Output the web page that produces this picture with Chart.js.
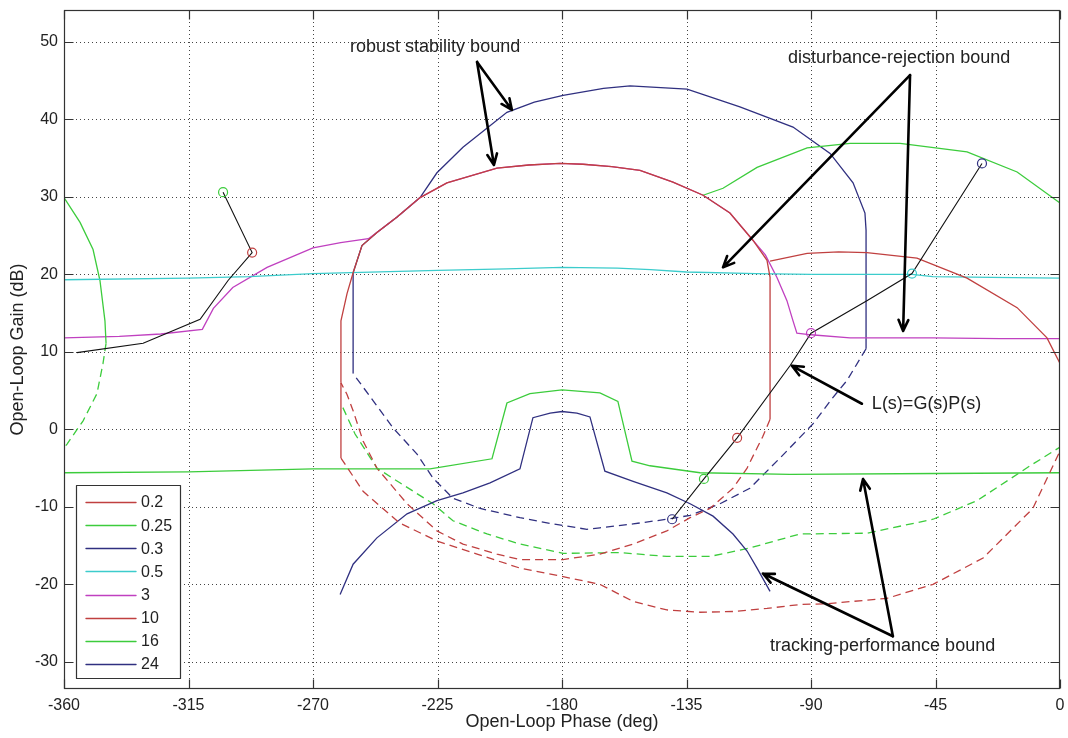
<!DOCTYPE html>
<html>
<head>
<meta charset="utf-8">
<title>Nichols chart with QFT bounds</title>
<script src="https://cdn.jsdelivr.net/npm/chart.js@4/dist/chart.umd.min.js"></script>
<style>
  html, body { margin: 0; padding: 0; background: #fff; }
  #wrap { width: 1068px; height: 738px; }
</style>
</head>
<body>
<div id="wrap"><canvas id="nichols" width="1068" height="738"></canvas></div>
<script>
// ---- axis ticks ----
const phaseTicks = [-360, -315, -270, -225, -180, -135, -90, -45, 0];
const gainTicks = [-30, -20, -10, 0, 10, 20, 30, 40, 50];

// ---- bound frequencies (rad/s) shown in the legend ----
const freqLabels = ['0.2', '0.25', '0.3', '0.5', '3', '10', '16', '24'];

// ---- bounds: [phase (deg), gain (dB)] ; null breaks a line ----
const w02Solid = [[-259.9, -3.7], [-259.9, 6.0], null,
  [-104.8, 21.7], [-91.4, 22.7], [-80, 22.9], [-69.8, 22.8], [-51.7, 22.1],
  [-33.6, 19.5], [-15.5, 15.7], [-4.7, 11.8], [0, 8.5]];
const w02Dashed = [[-259.9, -3.7], [-251.9, -8.0], [-238.6, -12.1], [-225.2, -14.4],
  [-210.7, -16.1], [-195.2, -17.9], [-179.6, -19.0], [-166.3, -20.0], [-154.3, -22.2],
  [-142.1, -23.3], [-130, -23.6], [-118.2, -23.5], [-105.9, -23.1], [-94.0, -22.6],
  [-84.2, -22.5], [-62.5, -21.8], [-45.9, -20.0], [-27.8, -16.6], [-9.8, -10.2], [0, -2.8]];

const w025Solid = [[-360, -5.6], [-315, -5.5], [-270, -5.1], [-227.7, -5.1], [-205.3, -3.8],
  [-199.9, 3.4], [-191.6, 4.6], [-180, 5.1], [-166.3, 4.7], [-159.8, 3.6], [-154.7, -4.1],
  [-148.2, -4.7], [-130.1, -5.6], [-97.6, -5.8], [-45, -5.7], [0, -5.6]];
const w025Dashed = [[-259.2, 2.8], [-254.8, -0.6], [-246.9, -5.0], [-238.6, -6.9],
  [-226.6, -9.6], [-219.4, -11.8], [-207.1, -13.5], [-195.2, -14.8], [-179.6, -16.0],
  [-159.0, -15.9], [-142.1, -16.4], [-126.5, -16.4], [-112.0, -15.3], [-94.0, -13.5],
  [-69.8, -13.4], [-45.9, -11.6], [-30.0, -9.2], [-10.8, -4.7], [0, -2.3]];

const w03Solid = [[-260.2, -21.3], [-255.5, -17.4], [-246.9, -14.0], [-236.0, -10.9],
  [-225.2, -9.2], [-215.8, -8.2], [-206.0, -6.9], [-195.2, -5.1], [-190.5, 1.5],
  [-184.3, 2.1], [-180.0, 2.3], [-174.6, 2.1], [-169.9, 1.6], [-164.5, -5.4],
  [-154.3, -6.7], [-142.1, -8.2], [-133.7, -9.6], [-125.4, -11.2], [-118.2, -13.5],
  [-113.1, -15.7], [-109.5, -17.9], [-104.8, -20.9]];

const w05Solid = [[-360, 19.3], [-315, 19.5], [-293, 19.7], [-270, 20.1], [-225, 20.5],
  [-200, 20.7], [-180, 20.9], [-160, 20.8], [-148, 20.6], [-135, 20.3], [-110, 20.1],
  [-90, 20.0], [-70, 20.0], [-53.5, 20.0], [-46, 19.7], [-25, 19.6], [0, 19.5]];

const w3Solid = [[-360, 11.8], [-340, 12.0], [-325, 12.3], [-310, 12.9], [-306, 15.6],
  [-299, 18.3], [-286.6, 20.9], [-270, 23.4], [-260, 24.1], [-250, 24.6], [-246.9, 25.4],
  [-239.6, 27.4], [-231.3, 29.9], [-221.6, 31.8], [-203.5, 33.7], [-192, 34.1],
  [-180.7, 34.3], [-172.4, 34.2], [-162, 33.9], [-151.8, 33.4], [-139.9, 31.9],
  [-129.0, 30.2], [-119.3, 27.9], [-111.0, 24.4], [-106.5, 22.5], [-102.3, 19.6],
  [-98.7, 16.6], [-96.5, 14.0], [-95.1, 12.4], [-90, 12.2], [-75.9, 11.8],
  [-45.9, 11.8], [-21.7, 11.7], [0, 11.7]];

const w10Solid = [[-259.9, 6.0], [-259.9, 14.0], [-257.7, 17.5], [-255.5, 20.2],
  [-252.3, 23.7], [-246.9, 25.4], [-239.6, 27.4], [-231.3, 29.9], [-221.6, 31.8],
  [-203.5, 33.7], [-192, 34.1], [-180.7, 34.3], [-172.4, 34.2], [-162, 33.9],
  [-151.8, 33.4], [-139.9, 31.9], [-129.0, 30.2], [-119.3, 27.9], [-111.0, 24.4],
  [-105.9, 21.8], [-104.8, 19.6], [-104.8, 1.3]];
const w10Dashed = [[-104.8, 1.3], [-107.5, -1.0], [-109.5, -2.4], [-113.1, -5.0],
  [-118.2, -7.6], [-126.5, -10.2], [-133.7, -11.4], [-142.1, -13.1], [-154.3, -14.8],
  [-166.3, -16.1], [-179.6, -16.8], [-195.2, -16.8], [-203.5, -16.1], [-215.8, -14.8],
  [-225.2, -13.1], [-236.0, -9.6], [-246.9, -5.0], [-251.9, -1.5], [-255.5, 2.4],
  [-257.7, 4.5], [-259.9, 6.0]];

const w16Solid = [[-360, 29.9], [-354.2, 26.7], [-349.5, 23.2], [-347.0, 19.2],
  [-345.2, 14.0], [-344.8, 11.1], null,
  [-129.0, 30.2], [-121.8, 31.1], [-109.5, 33.8], [-91.4, 36.3], [-75.9, 36.9],
  [-57.8, 36.9], [-33.6, 35.8], [-15.5, 33.2], [0, 29.2]];
const w16Dashed = [[-344.8, 11.1], [-345.9, 8.5], [-348.1, 4.6], [-353.1, 1.1],
  [-358.9, -1.9], [-360, -2.4]];

const w24Solid = [[-255.5, 7.2], [-255.5, 20.2], [-252.3, 23.7], [-246.9, 25.4],
  [-239.6, 27.4], [-231.3, 29.9], [-225.2, 33.1], [-215.8, 36.4], [-199.9, 40.9],
  [-190, 42.2], [-179.6, 43.1], [-165, 44.0], [-155.4, 44.3], [-134.8, 43.9],
  [-115.7, 41.6], [-96.5, 39.0], [-83.1, 35.6], [-74.8, 31.8], [-70.5, 27.9],
  [-70.1, 25.7], [-70.1, 10.4]];
const w24Dashed = [[-70.1, 10.4], [-77.0, 6.3], [-82.1, 4.1], [-89.3, 0.7],
  [-101.2, -3.7], [-112.1, -7.6], [-122.9, -9.6], [-133.7, -11.1], [-142.1, -11.6],
  [-154.3, -12.2], [-166.3, -12.7], [-171.0, -12.9], [-183.3, -12.2], [-195.2, -11.4],
  [-209.6, -10.2], [-219.4, -8.9], [-226.6, -6.3], [-232.4, -3.2], [-241.1, 0.2],
  [-248.3, 3.7], [-255.5, 7.2]];

// ---- open-loop response L(s)=G(s)P(s) ----
const loopPhase = [-355.3, -331.4, -310.8, -300.7, -292.0, -302.5, null,
  -140.2, -128.7, -116.7, -97.6, -90.0, -69.8, -53.5, -28.2];
const loopGain = [9.9, 11.1, 14.2, 19.2, 22.8, 30.6, null,
  -11.6, -6.4, -1.1, 8.2, 12.4, 16.6, 20.1, 34.3];

// ---- L(s) at the bound frequencies, in legend order ----
const markPhase = [-292.0, -302.5, -28.2, -53.5, -90.0, -116.7, -128.7, -140.2];
const markGain = [22.8, 30.6, 34.3, 20.1, 12.4, -1.1, -6.4, -11.6];

// ---- colours ----
const RED = '#c04040', GREEN = '#3ccc3c', NAVY = '#303080', CYAN = '#3ccccc', MAGENTA = '#c040c0';
const freqColors = [RED, GREEN, NAVY, CYAN, MAGENTA, RED, GREEN, NAVY];

const toXY = arr => arr.map(p => p ? { x: p[0], y: p[1] } : { x: null, y: null });

function bound(label, idx, pts, dashed, order) {
  return {
    label: label, legendIndex: dashed ? -1 : idx,
    data: toXY(pts),
    borderColor: freqColors[idx], borderWidth: 1.3,
    borderDash: dashed ? [8, 5] : [],
    pointRadius: 0, tension: 0, fill: false, spanGaps: false,
    order: order
  };
}

const datasets = [
  bound(freqLabels[0], 0, w02Solid, false, 3),
  bound(freqLabels[0], 0, w02Dashed, true, 3),
  bound(freqLabels[1], 1, w025Solid, false, 3),
  bound(freqLabels[1], 1, w025Dashed, true, 4),
  bound(freqLabels[2], 2, w03Solid, false, 3),
  bound(freqLabels[3], 3, w05Solid, false, 3),
  bound(freqLabels[4], 4, w3Solid, false, 6),
  bound(freqLabels[5], 5, w10Solid, false, 2),
  bound(freqLabels[5], 5, w10Dashed, true, 3),
  bound(freqLabels[6], 6, w16Solid, false, 5),
  bound(freqLabels[6], 6, w16Dashed, true, 5),
  bound(freqLabels[7], 7, w24Solid, false, 6),
  bound(freqLabels[7], 7, w24Dashed, true, 3),
  {
    label: 'L(s)', legendIndex: -1,
    data: loopPhase.map((p, i) => ({ x: p, y: loopGain[i] })),
    borderColor: '#111', borderWidth: 1.1, pointRadius: 0, tension: 0,
    fill: false, spanGaps: false, order: 1
  },
  {
    label: 'markers', legendIndex: -1,
    data: markPhase.map((p, i) => ({ x: p, y: markGain[i] })),
    showLine: false, pointRadius: 4.5, pointStyle: 'circle',
    pointBackgroundColor: 'rgba(0,0,0,0)', pointBorderColor: freqColors,
    pointBorderWidth: 1.2, order: 0
  }
];

// ---- text callouts with arrows, in data units ----
const callouts = [
  { text: 'robust stability bound', at: [-256.6, 49.3],
    from: [-210.7, 47.4], to: [[-198.1, 41.2], [-204.6, 34.1]] },
  { text: 'disturbance-rejection bound', at: [-98.3, 47.9],
    from: [-54.2, 45.7], to: [[-121.8, 20.9], [-56.7, 12.7]] },
  { text: 'L(s)=G(s)P(s)', at: [-68.0, 3.3],
    from: [-71.6, 3.3], to: [[-96.9, 8.2]] },
  { text: 'tracking-performance bound', at: [-104.8, -28.0],
    from: [-60.4, -26.7], to: [[-107.4, -18.6], [-71.2, -6.4]] }
];

const FONT = '"Liberation Sans", Arial, Helvetica, sans-serif';
Chart.defaults.font.family = FONT;

// dotted grid, box and inward tick marks
const framePlugin = {
  id: 'frame',
  beforeDatasetsDraw(chart) {
    const { ctx, chartArea: a, scales: { x, y } } = chart;
    ctx.save();
    ctx.strokeStyle = '#444';
    ctx.lineWidth = 1;
    ctx.setLineDash([1, 3]);
    ctx.beginPath();
    phaseTicks.forEach(v => {
      if (v <= x.min || v >= x.max) return;
      const px = Math.round(x.getPixelForValue(v)) + 0.5;
      ctx.moveTo(px, a.top); ctx.lineTo(px, a.bottom);
    });
    gainTicks.forEach(v => {
      const py = Math.round(y.getPixelForValue(v)) + 0.5;
      ctx.moveTo(a.left, py); ctx.lineTo(a.right, py);
    });
    ctx.stroke();
    ctx.restore();
  },
  afterDatasetsDraw(chart) {
    const { ctx, chartArea: a, scales: { x, y } } = chart;
    const L = Math.round(a.left) + 0.5, R = Math.round(a.right) - 0.5;
    const T = Math.round(a.top) + 0.5, B = Math.round(a.bottom) - 0.5;
    ctx.save();
    ctx.strokeStyle = '#333';
    ctx.lineWidth = 1.2;
    ctx.setLineDash([]);
    ctx.strokeRect(L, T, R - L, B - T);
    const tk = 9;
    ctx.beginPath();
    phaseTicks.forEach(v => {
      const px = Math.round(x.getPixelForValue(v)) + 0.5;
      ctx.moveTo(px, B); ctx.lineTo(px, B - tk);
      ctx.moveTo(px, T); ctx.lineTo(px, T + tk);
    });
    gainTicks.forEach(v => {
      const py = Math.round(y.getPixelForValue(v)) + 0.5;
      ctx.moveTo(L, py); ctx.lineTo(L + tk, py);
      ctx.moveTo(R, py); ctx.lineTo(R - tk, py);
    });
    ctx.stroke();
    ctx.restore();
  }
};

function drawArrow(ctx, x0, y0, x1, y1) {
  const ang = Math.atan2(y1 - y0, x1 - x0);
  const h = 12, spread = 0.42;
  ctx.beginPath();
  ctx.moveTo(x0, y0); ctx.lineTo(x1, y1);
  ctx.moveTo(x1 - h * Math.cos(ang - spread), y1 - h * Math.sin(ang - spread));
  ctx.lineTo(x1, y1);
  ctx.lineTo(x1 - h * Math.cos(ang + spread), y1 - h * Math.sin(ang + spread));
  ctx.stroke();
}

// callouts and the boxed legend
const overlayPlugin = {
  id: 'overlay',
  afterDraw(chart) {
    const { ctx, chartArea: a, scales: { x, y } } = chart;
    ctx.save();
    // callouts
    ctx.strokeStyle = '#000';
    ctx.lineWidth = 2.6;
    ctx.lineCap = 'round';
    ctx.lineJoin = 'round';
    callouts.forEach(c => {
      const fx = x.getPixelForValue(c.from[0]), fy = y.getPixelForValue(c.from[1]);
      c.to.forEach(t => drawArrow(ctx, fx, fy, x.getPixelForValue(t[0]), y.getPixelForValue(t[1])));
    });
    ctx.fillStyle = '#222';
    ctx.font = '18px ' + FONT;
    ctx.textAlign = 'left';
    ctx.textBaseline = 'middle';
    callouts.forEach(c => ctx.fillText(c.text, x.getPixelForValue(c.at[0]), y.getPixelForValue(c.at[1])));

    // legend box, lower-left corner of the plot
    const bx = a.left + 12, bw = 104, rowH = 23.15;
    const bh = 193, by = a.bottom - 11 - bh;
    ctx.fillStyle = '#fff';
    ctx.fillRect(bx, by, bw, bh);
    ctx.strokeStyle = '#333';
    ctx.lineWidth = 1.2;
    ctx.strokeRect(Math.round(bx) + 0.5, Math.round(by) + 0.5, bw, bh);
    ctx.font = '16px ' + FONT;
    ctx.textBaseline = 'middle';
    const entries = chart.data.datasets.filter(d => d.legendIndex >= 0)
      .sort((p, q) => p.legendIndex - q.legendIndex);
    entries.forEach((d, i) => {
      const ly = by + 17 + i * rowH;
      ctx.strokeStyle = d.borderColor;
      ctx.lineWidth = 1.4;
      ctx.beginPath();
      ctx.moveTo(bx + 10, Math.round(ly) + 0.5);
      ctx.lineTo(bx + 60, Math.round(ly) + 0.5);
      ctx.stroke();
      ctx.fillStyle = '#222';
      ctx.fillText(d.label, bx + 65, ly + 1);
    });
    ctx.restore();
  }
};

new Chart(document.getElementById('nichols'), {
  type: 'line',
  data: { datasets: datasets },
  options: {
    responsive: false,
    animation: false,
    devicePixelRatio: 1,
    layout: { autoPadding: false, padding: { left: 0, right: 8, top: 10, bottom: 0 } },
    plugins: { legend: { display: false }, tooltip: { enabled: false } },
    scales: {
      x: {
        type: 'linear', position: 'bottom', min: -360, max: 0,
        afterBuildTicks: s => { s.ticks = phaseTicks.map(v => ({ value: v })); },
        afterFit: s => { s.height = 49; s.paddingLeft = 0; s.paddingRight = 0; },
        grid: { display: false, drawTicks: false },
        border: { display: false },
        ticks: { color: '#222', font: { size: 16 }, padding: 7, maxRotation: 0, autoSkip: false },
        title: { display: true, text: 'Open-Loop Phase (deg)', color: '#222',
                 font: { size: 18 }, padding: { top: 0, bottom: 5 } }
      },
      y: {
        type: 'linear', position: 'left', min: -33.5, max: 54.1,
        afterBuildTicks: s => { s.ticks = gainTicks.map(v => ({ value: v })); },
        afterFit: s => { s.width = 64; s.paddingTop = 0; s.paddingBottom = 0; },
        grid: { display: false, drawTicks: false },
        border: { display: false },
        ticks: { color: '#222', font: { size: 16 }, padding: 6, autoSkip: false },
        title: { display: true, text: 'Open-Loop Gain (dB)', color: '#222',
                 font: { size: 18 }, padding: { top: 7, bottom: 0 } }
      }
    }
  },
  plugins: [framePlugin, overlayPlugin]
});
</script>
</body>
</html>
